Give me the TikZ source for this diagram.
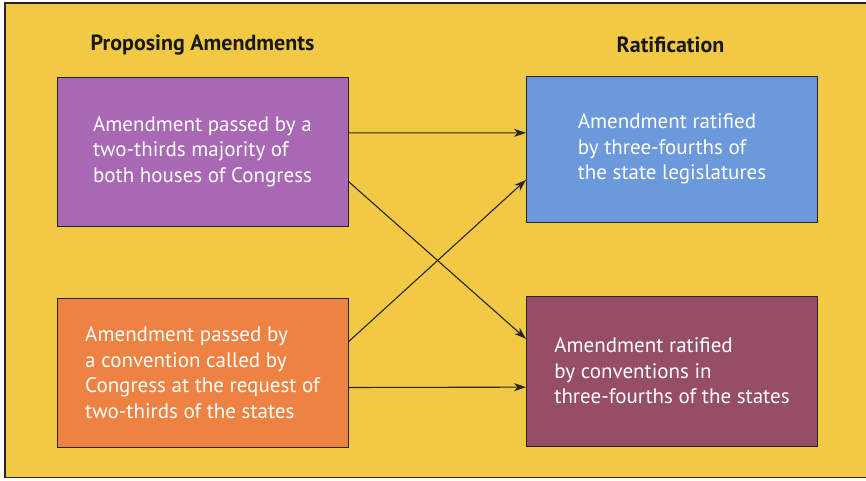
\documentclass[tikz,border=0pt]{standalone}
\usepackage{fontspec}
\setmainfont{PT Sans}
\usetikzlibrary{arrows.meta,calc}
\definecolor{bgyellow}{RGB}{242,201,68}
\definecolor{boxpurple}{RGB}{168,104,180}
\definecolor{boxblue}{RGB}{108,152,220}
\definecolor{boxorange}{RGB}{238,130,66}
\definecolor{boxmaroon}{RGB}{150,78,102}
\definecolor{edge}{RGB}{40,36,36}
\tikzset{
  x=1pt, y=-1pt,
  stepbox/.style={draw=edge, line width=0.9pt, minimum width=291pt, minimum height=149pt,
    inner sep=0pt, text=white, align=left, font=\fontsize{21}{25.5}\selectfont},
  title/.style={font=\fontsize{22}{24}\selectfont\bfseries, text=black!90},
  link/.style={draw=edge, line width=1.1pt, -{Stealth[length=12pt,width=8pt,inset=3.5pt]}}
}
\begin{document}
\begin{tikzpicture}
\useasboundingbox (0,0) rectangle (866,481);
\fill[white] (0,0) rectangle (866,481);
\fill[bgyellow] (5,3) rectangle (866,477.5);
\draw[edge, line width=1.2pt] (866,3) -- (5,3) -- (5,477.5) -- (866,477.5);

\node[title] (t1) at (202.5,45) {Proposing Amendments};
\node[title] (t2) at (670.5,45) {Ratification};

\node[stepbox, fill=boxpurple] (p) at (202.5,151.5) {Amendment passed by a\\two-thirds majority of\\both houses of Congress};
\node[stepbox, fill=boxblue, minimum height=146pt] (b) at (672,149) {Amendment ratified\\by three-fourths of\\the state legislatures};
\node[stepbox, fill=boxorange] (o) at (202.5,372.5) {Amendment passed by\\a convention called by\\Congress at the request of\\two-thirds of the states};
\node[stepbox, fill=boxmaroon, minimum height=150pt] (m) at (672,371) {Amendment ratified\\by conventions in\\three-fourths of the states};

\draw[link] ($(p.north east)!0.376!(p.south east)$) -- ($(b.north west)!0.39!(b.south west)$);
\draw[link] ($(p.north east)!0.70!(p.south east)$) -- ($(m.north west)!0.287!(m.south west)$);
\draw[link] ($(o.north east)!0.295!(o.south east)$) -- ($(b.north west)!0.71!(b.south west)$);
\draw[link] ($(o.north east)!0.60!(o.south east)$) -- ($(m.north west)!0.607!(m.south west)$);
\end{tikzpicture}
\end{document}
